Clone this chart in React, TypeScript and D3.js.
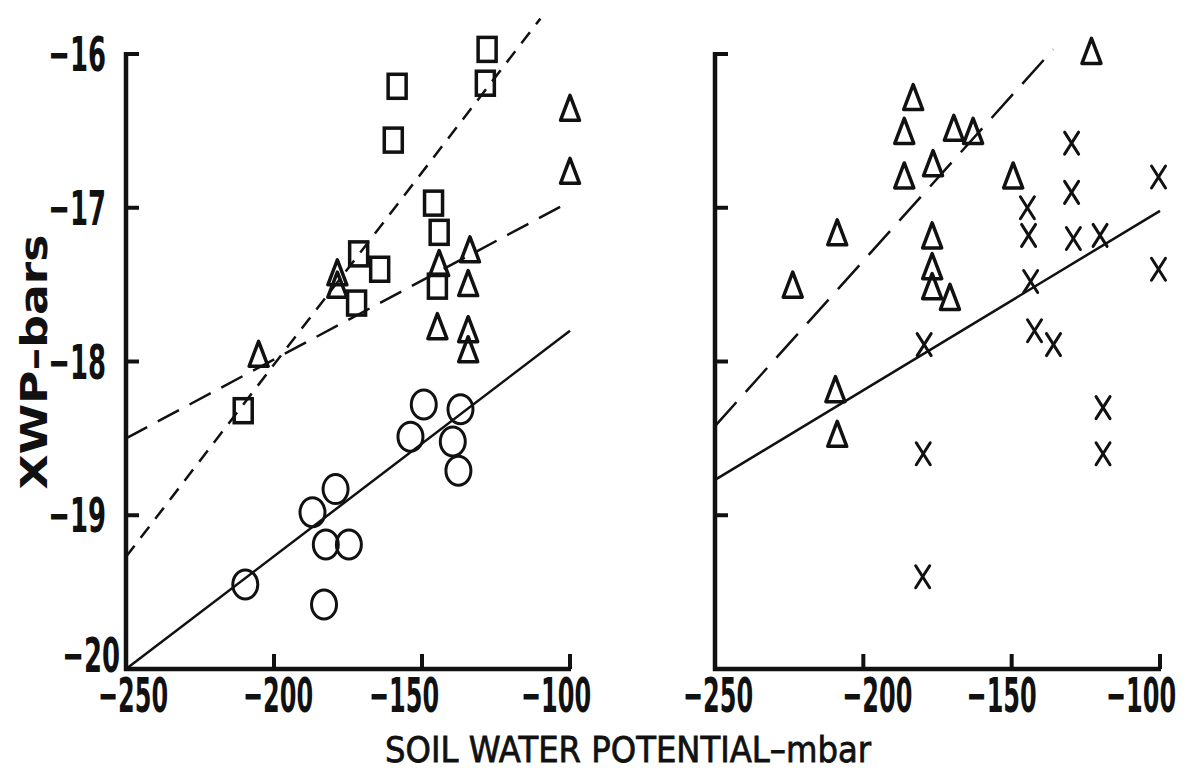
import React from 'react';
import * as d3 from 'd3';

// ---- data ----
const xTickValues = [-250, -200, -150, -100];
const yTickValues = [-16, -17, -18, -19, -20];

// Left panel
const leftCircles: [number, number][] = [
  [-149.4, -18.28], [-137.0, -18.31], [-153.9, -18.49], [-139.6, -18.52],
  [-137.7, -18.71], [-179.2, -18.83], [-187.0, -18.98], [-182.5, -19.19],
  [-174.7, -19.19], [-209.7, -19.45], [-183.1, -19.58],
];
const leftSquares: [number, number][] = [
  [-128.0, -15.97], [-128.6, -16.19], [-158.4, -16.21], [-159.7, -16.56],
  [-146.1, -16.97], [-144.2, -17.16], [-144.8, -17.51], [-171.4, -17.30],
  [-164.3, -17.40], [-172.1, -17.62], [-210.4, -18.32],
];
const leftTriangles: [number, number][] = [
  [-100, -16.35], [-100, -16.76], [-133.8, -17.27], [-144.2, -17.36],
  [-178.6, -17.42], [-178.6, -17.50], [-134.4, -17.49], [-144.8, -17.77],
  [-134.4, -17.79], [-134.4, -17.92], [-205.2, -17.95],
];
const leftSolidLine: [number, number][] = [[-250, -20], [-100, -17.8]];
const leftLongDashLine: [number, number][] = [[-250, -18.5], [-100, -16.96]];
const leftShortDashLine: [number, number][] = [[-250, -19.27], [-110, -15.77]];

// Right panel
const rightTriangles: [number, number][] = [
  [-123.1, -15.98], [-183.2, -16.28], [-186.2, -16.5], [-169.5, -16.48],
  [-163.0, -16.5], [-176.5, -16.71], [-186.2, -16.79], [-149.5, -16.79],
  [-208.8, -17.16], [-176.8, -17.18], [-176.8, -17.38], [-176.8, -17.51],
  [-170.8, -17.58], [-223.8, -17.5], [-209.4, -18.18], [-208.8, -18.47],
];
const rightCrosses: [number, number][] = [
  [-129.8, -16.58], [-129.8, -16.9], [-100.5, -16.8], [-144.7, -17.0],
  [-144.3, -17.18], [-129.2, -17.2], [-120.2, -17.18], [-100.5, -17.4],
  [-143.6, -17.48], [-142.3, -17.8], [-135.9, -17.89], [-179.5, -17.89],
  [-119.2, -18.3], [-119.2, -18.6], [-179.8, -18.6], [-180.0, -19.4],
];
const rightSolidLine: [number, number][] = [[-250, -18.77], [-100, -17.02]];
const rightDashLine: [number, number][] = [[-250, -18.42], [-136, -15.97]];

const xTitle = 'SOIL WATER POTENTIAL\u2013mbar';
const yTitle = 'XWP\u2013bars';

const FONT = "'DejaVu Sans', 'Liberation Sans', sans-serif";
const INK = '#111';

function fmt(v: number) {
  return '\u2212' + Math.abs(v);
}

export default function App() {
  const W = 1197, H = 772;
  const y = d3.scaleLinear().domain([-20, -16]).range([669, 54]);
  const xL = d3.scaleLinear().domain([-250, -100]).range([126, 570]);
  const xR = d3.scaleLinear().domain([-250, -100]).range([715, 1160]);

  const lineGen = (xs: d3.ScaleLinear<number, number>) =>
    d3.line<[number, number]>().x(d => xs(d[0])).y(d => y(d[1]));

  const tri = (cx: number, cy: number) => {
    const w = 19, h = 25;
    return `M${cx},${cy - h / 2}L${cx + w / 2},${cy + h / 2}L${cx - w / 2},${cy + h / 2}Z`;
  };

  const axis = (xs: d3.ScaleLinear<number, number>, showY: boolean, labelOffsets: number[]) => (
    <g>
      <line x1={xs(-250)} x2={xs(-250)} y1={y(-16) - 2} y2={y(-20) + 2} stroke={INK} strokeWidth={4.5} />
      <line x1={xs(-250) - 2} x2={xs(-100) + 1} y1={y(-20)} y2={y(-20)} stroke={INK} strokeWidth={4.5} />
      {yTickValues.filter(v => v !== -20).map(v => (
        <line key={'yt' + v} x1={xs(-250)} x2={xs(-250) + 13} y1={y(v)} y2={y(v)} stroke={INK} strokeWidth={4} />
      ))}
      {xTickValues.filter(v => v !== -250).map(v => (
        <line key={'xt' + v} x1={xs(v)} x2={xs(v)} y1={y(-20)} y2={y(-20) - 15} stroke={INK} strokeWidth={4} />
      ))}
      {xTickValues.map((v, i) => (
        <text key={'xl' + v}
          transform={`translate(${xs(v) + labelOffsets[i]},712) scale(0.5,1)`}
          textAnchor="middle" fontFamily={FONT} fontSize={48} fontWeight="bold" fill={INK}>{fmt(v)}</text>
      ))}
      {showY && yTickValues.map(v => (
        <text key={'yl' + v}
          transform={`translate(${v === -20 ? 120 : 106},${y(v) + (v === -20 ? 3 : 17)}) scale(0.54,1)`}
          textAnchor="end" fontFamily={FONT} fontSize={48} fontWeight="bold" fill={INK}>{fmt(v)}</text>
      ))}
    </g>
  );

  return (
    <svg width={W} height={H} viewBox={`0 0 ${W} ${H}`}
      style={{ position: 'absolute', left: 0, top: 0, background: '#fff' }}>
      <rect x={0} y={0} width={W} height={H} fill="#fff" />
      {axis(xL, true, [7, 4, -18, -14])}
      {axis(xR, false, [3, 14, -10, -19])}

      {/* left lines */}
      <path d={lineGen(xL)(leftSolidLine) || ''} fill="none" stroke={INK} strokeWidth={2.5} />
      <path d={lineGen(xL)(leftLongDashLine) || ''} fill="none" stroke={INK} strokeWidth={2.5} strokeDasharray="24 12" />
      <path d={lineGen(xL)(leftShortDashLine) || ''} fill="none" stroke={INK} strokeWidth={2.5} strokeDasharray="14 10" />

      {/* right lines */}
      <path d={lineGen(xR)(rightSolidLine) || ''} fill="none" stroke={INK} strokeWidth={2.5} />
      <path d={lineGen(xR)(rightDashLine) || ''} fill="none" stroke={INK} strokeWidth={2.5} strokeDasharray="32 14" />

      {/* markers left */}
      {leftCircles.map((d, i) => (
        <ellipse key={'c' + i} cx={xL(d[0])} cy={y(d[1])} rx={12.5} ry={14.5} fill="none" stroke={INK} strokeWidth={3} />
      ))}
      {leftSquares.map((d, i) => (
        <rect key={'s' + i} x={xL(d[0]) - 9} y={y(d[1]) - 12} width={18} height={24} fill="none" stroke={INK} strokeWidth={3.5} />
      ))}
      {leftTriangles.map((d, i) => (
        <path key={'t' + i} d={tri(xL(d[0]), y(d[1]))} fill="none" stroke={INK} strokeWidth={3.5} strokeLinejoin="round" />
      ))}

      {/* markers right */}
      {rightTriangles.map((d, i) => (
        <path key={'rt' + i} d={tri(xR(d[0]), y(d[1]))} fill="none" stroke={INK} strokeWidth={3.5} strokeLinejoin="round" />
      ))}
      {rightCrosses.map((d, i) => {
        const cx = xR(d[0]), cy = y(d[1]);
        return (
          <g key={'x' + i} stroke={INK} strokeWidth={3} strokeLinecap="round">
            <line x1={cx - 7} y1={cy - 11} x2={cx + 7} y2={cy + 11} />
            <line x1={cx + 7} y1={cy - 11} x2={cx - 7} y2={cy + 11} />
          </g>
        );
      })}

      {/* titles */}
      <text x={628} y={762} textAnchor="middle" fontFamily={FONT} fontSize={36} fill={INK}
        stroke={INK} strokeWidth={0.8}
        textLength={486} lengthAdjust="spacingAndGlyphs">{xTitle}</text>
      <text transform="translate(47,362) rotate(-90)" textAnchor="middle" fontFamily={FONT}
        fontSize={38} fontWeight="bold" fill={INK} textLength={255} lengthAdjust="spacingAndGlyphs">{yTitle}</text>
    </svg>
  );
}
